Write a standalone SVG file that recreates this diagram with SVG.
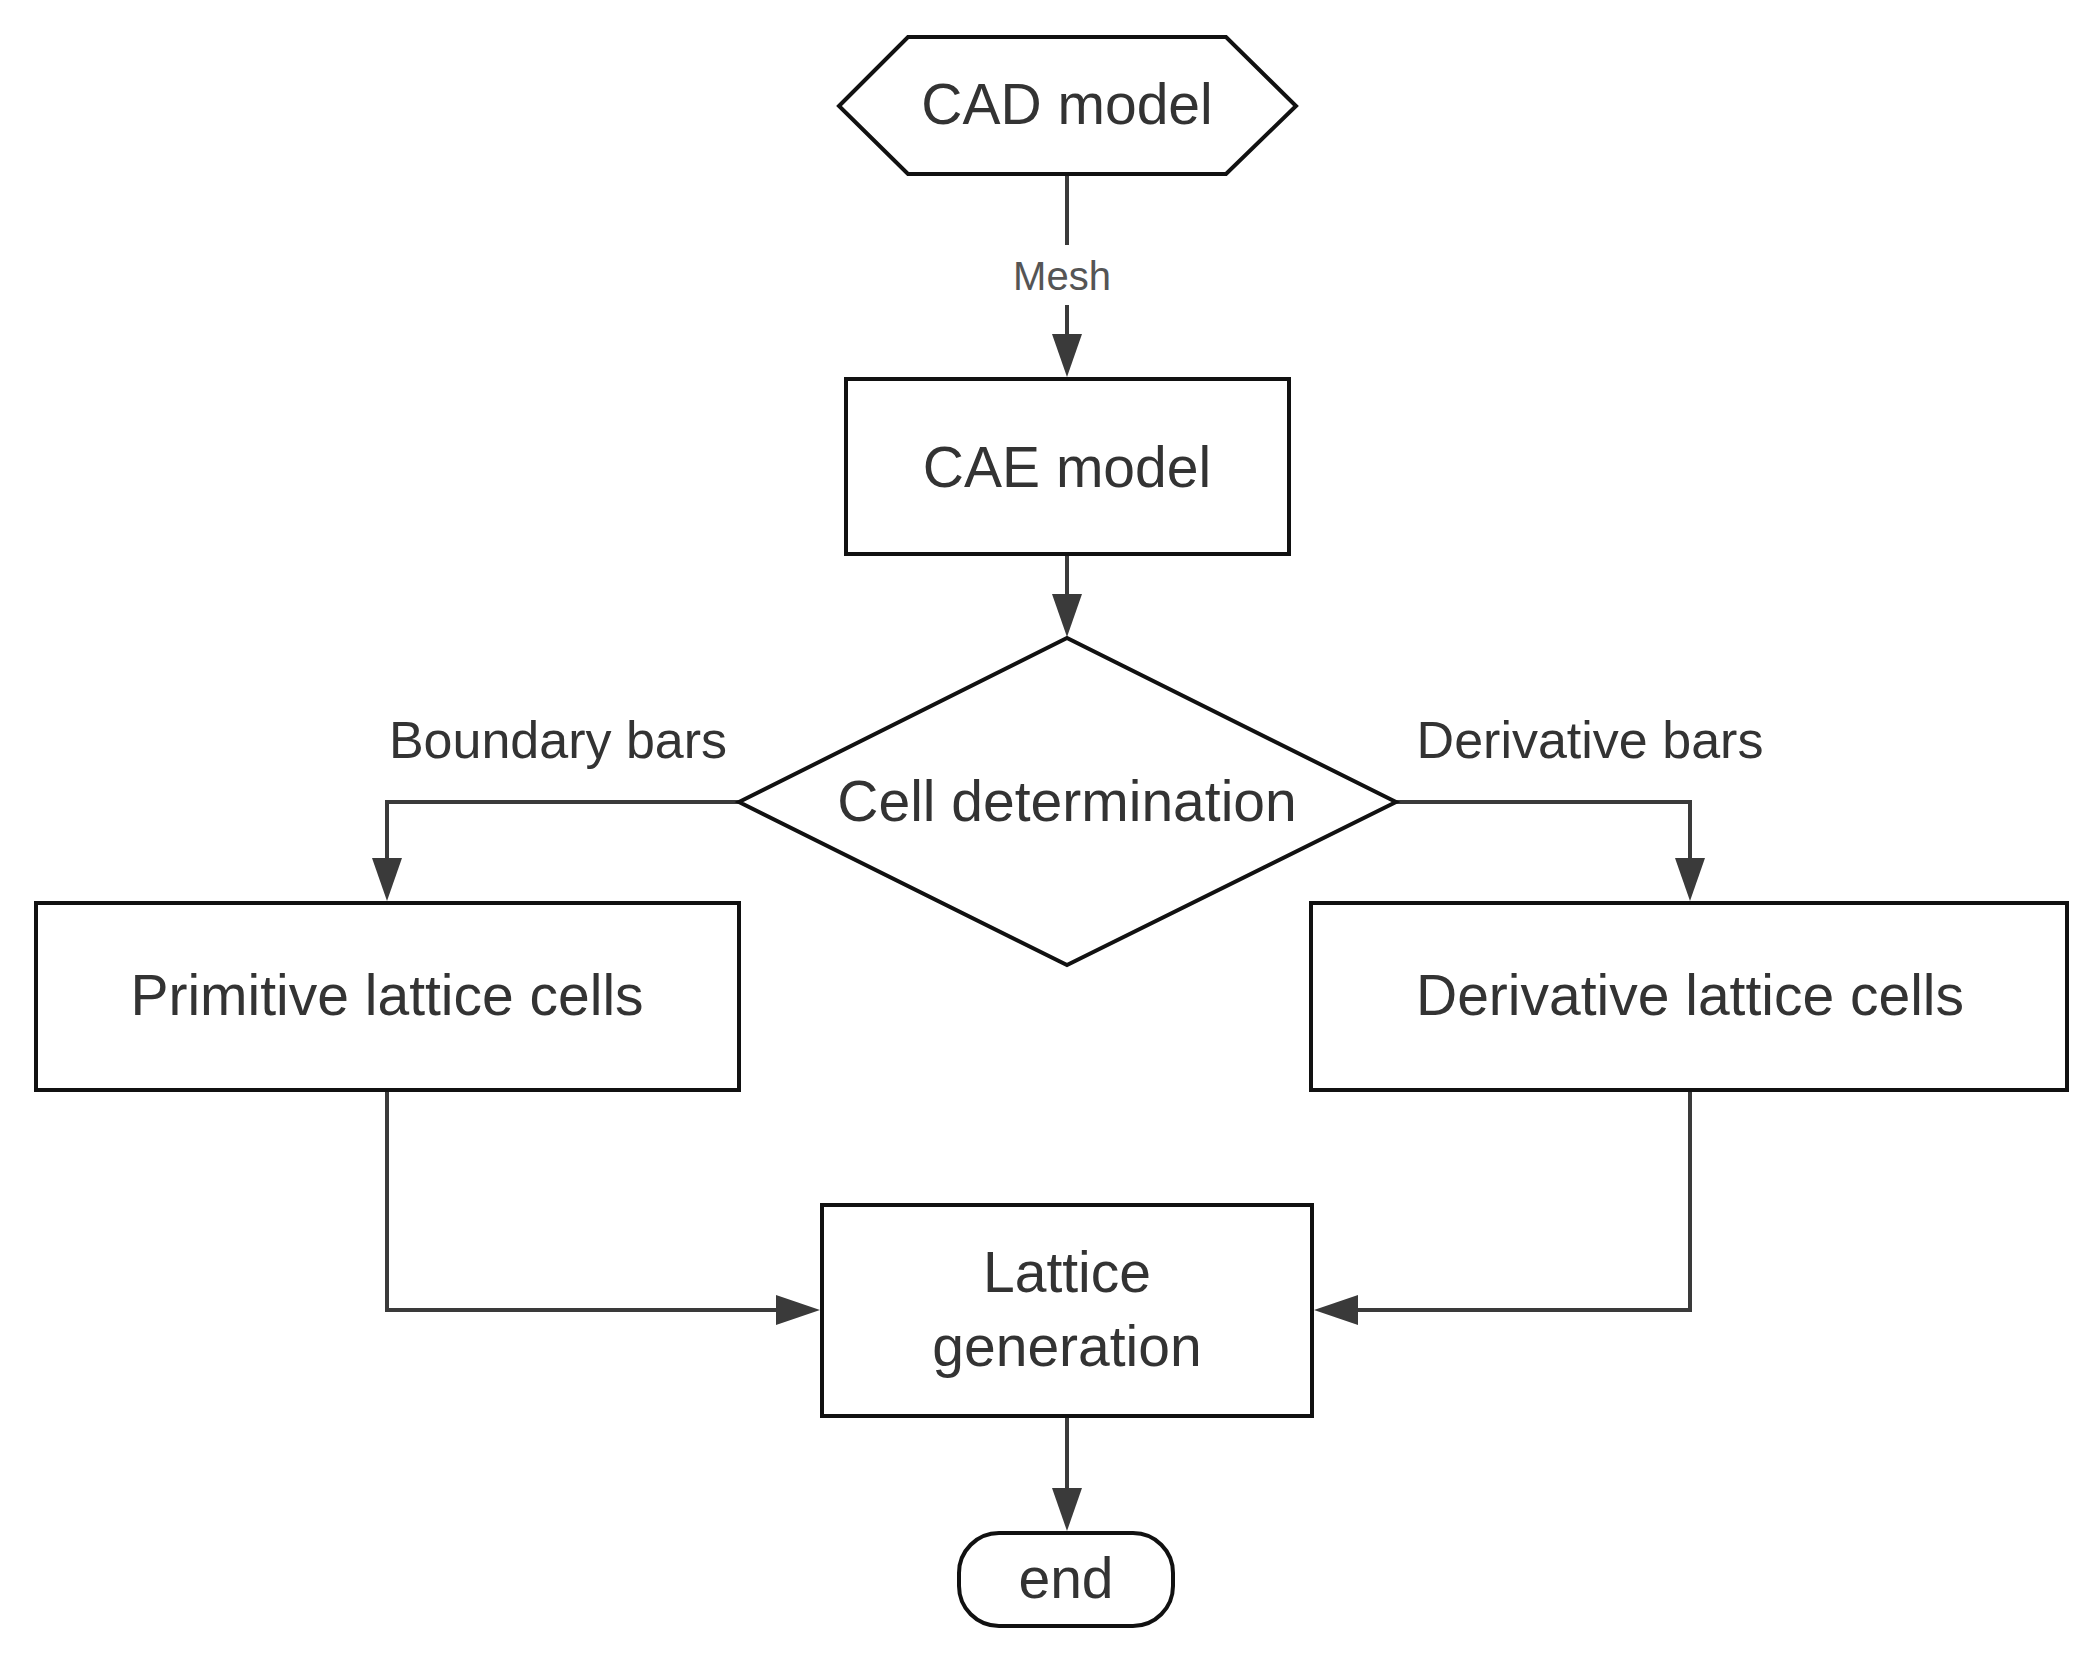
<svg xmlns="http://www.w3.org/2000/svg" width="2095" height="1656" viewBox="0 0 2095 1656">
<defs>
<style>
.s{fill:#fff;stroke:#111;stroke-width:4}
.t{font-family:"Liberation Sans",Arial,sans-serif;font-size:57px;fill:#333;text-anchor:middle}
.l{font-family:"Liberation Sans",Arial,sans-serif;font-size:52px;fill:#333;text-anchor:middle}
.c{fill:none;stroke:#3a3a3a;stroke-width:4}
</style>
</defs>
<rect width="2095" height="1656" fill="#fff"/>
<g id="connectors">
<line class="c" x1="1067" y1="174" x2="1067" y2="245"/>
<line class="c" x1="1067" y1="305" x2="1067" y2="334"/>
<path d="M1052,334 L1082,334 L1067,377 z" fill="#3a3a3a"/>
<text x="1062" y="290" font-family="Liberation Sans,Arial,sans-serif" font-size="40" fill="#555" text-anchor="middle">Mesh</text>
<line class="c" x1="1067" y1="554" x2="1067" y2="594"/>
<path d="M1052,594 L1082,594 L1067,637 z" fill="#3a3a3a"/>
<polyline class="c" points="739,802 387,802 387,858"/>
<path d="M372,858 L402,858 L387,901 z" fill="#3a3a3a"/>
<polyline class="c" points="1396,802 1690,802 1690,858"/>
<path d="M1675,858 L1705,858 L1690,901 z" fill="#3a3a3a"/>
<polyline class="c" points="387,1092 387,1310 776,1310"/>
<path d="M776,1295 L776,1325 L820,1310 z" fill="#3a3a3a"/>
<polyline class="c" points="1690,1092 1690,1310 1358,1310"/>
<path d="M1358,1295 L1358,1325 L1314,1310 z" fill="#3a3a3a"/>
<line class="c" x1="1067" y1="1416" x2="1067" y2="1488"/>
<path d="M1052,1488 L1082,1488 L1067,1531 z" fill="#3a3a3a"/>
<text class="l" x="558" y="758">Boundary bars</text>
<text class="l" x="1590" y="758">Derivative bars</text>
</g>
<g id="cad">
<polygon class="s" points="839,106 908,37 1226,37 1296,106 1226,174 908,174"/>
<text class="t" x="1067" y="124">CAD model</text>
</g>
<g id="cae">
<rect class="s" x="846" y="379" width="443" height="175"/>
<text class="t" x="1067" y="487">CAE model</text>
</g>
<g id="cell">
<polygon class="s" points="739,802 1067,638 1396,802 1067,965"/>
<text class="t" x="1067" y="821">Cell determination</text>
</g>
<g id="primitive">
<rect class="s" x="36" y="903" width="703" height="187"/>
<text class="t" x="387" y="1015">Primitive lattice cells</text>
</g>
<g id="derivative">
<rect class="s" x="1311" y="903" width="756" height="187"/>
<text class="t" x="1690" y="1015">Derivative lattice cells</text>
</g>
<g id="lattice">
<rect class="s" x="822" y="1205" width="490" height="211"/>
<text class="t" x="1067" y="1292">Lattice</text>
<text class="t" x="1067" y="1366">generation</text>
</g>
<g id="end">
<rect class="s" x="959" y="1533" width="214" height="93" rx="40"/>
<text class="t" x="1066" y="1598">end</text>
</g>
</svg>
